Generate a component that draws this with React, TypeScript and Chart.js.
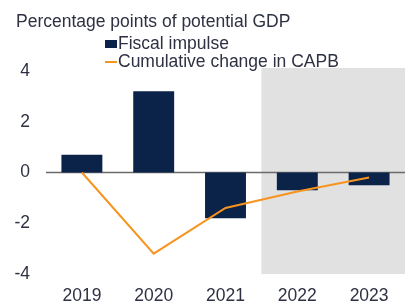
import React, { useEffect, useRef } from "react";
import { Chart, registerables } from "chart.js";

Chart.register(...registerables);

const categories = ["2019", "2020", "2021", "2022", "2023"];
const fiscalImpulse = [0.7, 3.2, -1.8, -0.7, -0.5];
const cumulativeCAPB = [0, -3.2, -1.4, -0.75, -0.2];
const yTicks = [4, 2, 0, -2, -4];
const titleText = "Percentage points of potential GDP";
const legendLabels = ["Fiscal impulse", "Cumulative change in CAPB"];
const shadedFromIndex = 3;

const NAVY = "#0b2249";
const ORANGE = "#f7941d";
const TEXT = "#2e3142";
const FONT = "'Liberation Sans', Arial, sans-serif";
const FS = 17.5;

export default function App() {
  const ref = useRef<HTMLCanvasElement | null>(null);

  useEffect(() => {
    if (!ref.current) return;
    const overlay = {
      id: "overlay",
      beforeDatasetsDraw(chart: any) {
        const { ctx, chartArea, scales } = chart;
        const x = scales.x;
        const left = (x.getPixelForValue(shadedFromIndex - 1) + x.getPixelForValue(shadedFromIndex)) / 2;
        ctx.save();
        ctx.fillStyle = "#e1e1e1";
        ctx.fillRect(left, chartArea.top - 3, chartArea.right - left, chartArea.bottom - chartArea.top + 3);
        const y0 = scales.y.getPixelForValue(0);
        ctx.strokeStyle = "#6b6b6b";
        ctx.lineWidth = 1.5;
        ctx.beginPath();
        ctx.moveTo(chartArea.left, y0);
        ctx.lineTo(chartArea.right, y0);
        ctx.stroke();
        ctx.restore();
      },
      afterDraw(chart: any) {
        const { ctx } = chart;
        ctx.save();
        ctx.fillStyle = TEXT;
        ctx.font = `${FS}px ${FONT}`;
        ctx.textBaseline = "alphabetic";
        ctx.textAlign = "left";
        ctx.fillText(titleText, 16, 27);
        ctx.fillStyle = NAVY;
        ctx.fillRect(105, 40, 12, 8);
        ctx.fillStyle = TEXT;
        ctx.fillText(legendLabels[0], 118, 49);
        ctx.strokeStyle = ORANGE;
        ctx.lineWidth = 2;
        ctx.beginPath();
        ctx.moveTo(105, 62);
        ctx.lineTo(117, 62);
        ctx.stroke();
        ctx.fillText(legendLabels[1], 118, 67);
        ctx.restore();
      },
    };

    const chart = new Chart(ref.current, {
      type: "bar",
      data: {
        labels: categories,
        datasets: [
          {
            type: "line",
            label: legendLabels[1],
            data: cumulativeCAPB,
            borderColor: ORANGE,
            backgroundColor: ORANGE,
            borderWidth: 2,
            pointRadius: 0,
            tension: 0,
            order: 0,
          } as any,
          {
            type: "bar",
            label: legendLabels[0],
            data: fiscalImpulse,
            backgroundColor: NAVY,
            categoryPercentage: 1,
            barPercentage: 0.57,
            order: 1,
          },
        ],
      },
      options: {
        animation: false,
        responsive: false,
        maintainAspectRatio: false,
        layout: { padding: { top: 71, right: 4, left: 0, bottom: 0 } },
        plugins: { legend: { display: false }, tooltip: { enabled: false }, title: { display: false } },
        scales: {
          x: {
            grid: { display: false, drawTicks: false },
            border: { display: false },
            ticks: { color: TEXT, font: { family: FONT, size: FS }, padding: 12 },
            afterFit: (scale: any) => {
              scale.height = 30;
            },
          },
          y: {
            min: -4,
            max: 4,
            afterBuildTicks: (scale: any) => {
              scale.ticks = yTicks.map((v) => ({ value: v }));
            },
            afterFit: (scale: any) => {
              scale.width = 46;
            },
            grid: { display: false, drawTicks: false },
            border: { display: false },
            ticks: { color: TEXT, font: { family: FONT, size: FS }, padding: 16 },
          },
        },
      },
      plugins: [overlay],
    });
    return () => chart.destroy();
  }, []);

  return (
    <div style={{ position: "fixed", left: 0, top: 0, width: 409, height: 304, background: "#fff" }}>
      <canvas ref={ref} width={409} height={304} style={{ width: 409, height: 304 }} />
    </div>
  );
}
